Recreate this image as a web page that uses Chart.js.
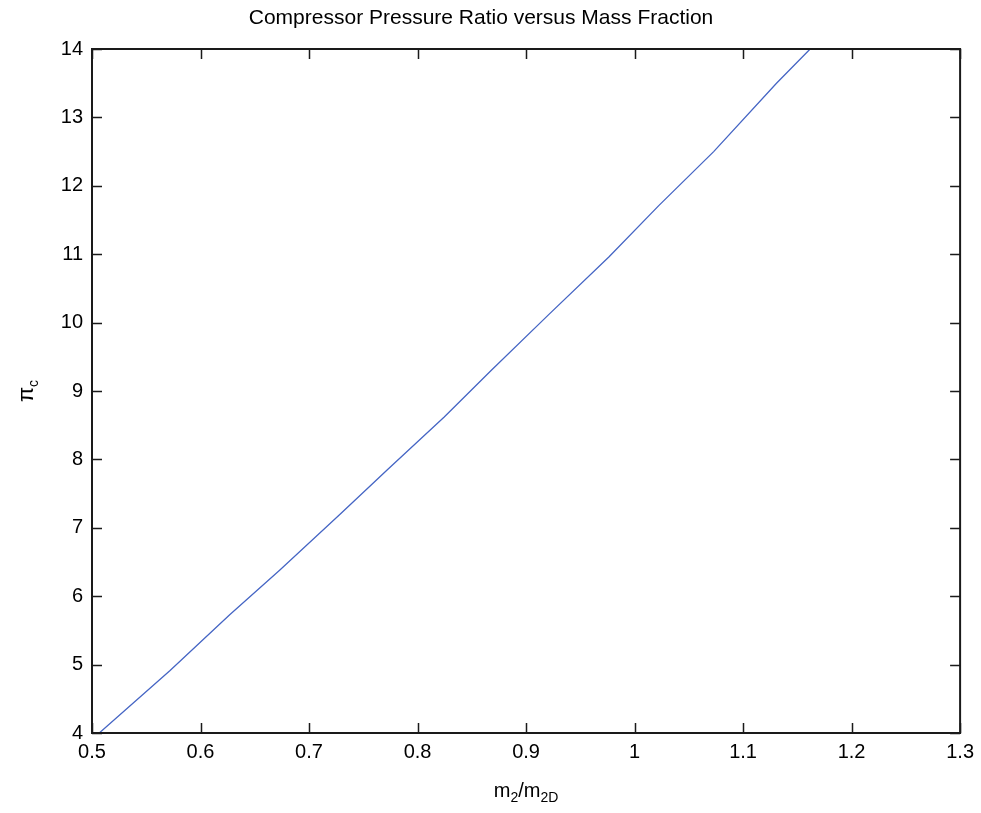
<!DOCTYPE html>
<html>
<head>
<meta charset="utf-8">
<title>Compressor Pressure Ratio versus Mass Fraction</title>
<script src="https://cdn.jsdelivr.net/npm/chart.js@4/dist/chart.umd.min.js"></script>
<style>
    html, body { margin: 0; padding: 0; background: #fff; }
    #wrap { width: 981px; height: 813px; position: relative; }
</style>
</head>
<body>
<div id="wrap"><canvas id="pressureChart"></canvas></div>
<script>
// values
const massFraction = [0.5067, 0.5717, 0.6269, 0.6729, 0.7281, 0.7722, 0.8246, 0.8678, 0.9211, 0.9763, 1.0223, 1.0729, 1.1308, 1.1618];
const pressureRatio = [4.00, 4.91, 5.73, 6.38, 7.19, 7.85, 8.62, 9.30, 10.12, 10.96, 11.71, 12.50, 13.50, 14.00];

const xTicks = [0.5, 0.6, 0.7, 0.8, 0.9, 1.0, 1.1, 1.2, 1.3];
const yTicks = [4, 5, 6, 7, 8, 9, 10, 11, 12, 13, 14];

const FONT = "'Liberation Sans', Arial, sans-serif";

// box + inward ticks, matlab style
const axesBox = {
    id: 'axesBox',
    afterDraw(chart) {
        const { ctx, chartArea: a, scales } = chart;
        const len = 10;
        ctx.save();
        ctx.strokeStyle = '#1a1a1a';
        ctx.lineWidth = 1.5;
        ctx.beginPath();
        xTicks.forEach(v => {
            const px = Math.round(scales.x.getPixelForValue(v)) + 0.5;
            ctx.moveTo(px, a.bottom); ctx.lineTo(px, a.bottom - len);
            ctx.moveTo(px, a.top); ctx.lineTo(px, a.top + len);
        });
        yTicks.forEach(v => {
            const py = Math.round(scales.y.getPixelForValue(v)) + 0.5;
            ctx.moveTo(a.left, py); ctx.lineTo(a.left + len, py);
            ctx.moveTo(a.right, py); ctx.lineTo(a.right - len, py);
        });
        ctx.stroke();
        ctx.lineWidth = 2;
        ctx.strokeRect(a.left, a.top, a.right - a.left, a.bottom - a.top);

        // axis labels with subscripts
        ctx.fillStyle = '#000';
        ctx.textBaseline = 'alphabetic';
        const big = `20px ${FONT}`, small = `14px ${FONT}`;
        const parts = [['m', big, 0], ['2', small, 5], ['/m', big, 0], ['2D', small, 5]];
        let total = 0;
        parts.forEach(p => { ctx.font = p[1]; total += ctx.measureText(p[0]).width; });
        let x = (a.left + a.right) / 2 - total / 2;
        const base = 797;
        parts.forEach(p => {
            ctx.font = p[1];
            ctx.fillText(p[0], x, base + p[2]);
            x += ctx.measureText(p[0]).width;
        });

        ctx.translate(33, (a.top + a.bottom) / 2);
        ctx.rotate(-Math.PI / 2);
        ctx.font = `22px ${FONT}`;
        const w1 = ctx.measureText('\u03c0').width;
        ctx.font = small;
        const w2 = ctx.measureText('c').width;
        let tx = -(w1 + w2) / 2;
        ctx.font = `22px ${FONT}`;
        ctx.fillText('\u03c0', tx, 0);
        ctx.font = small;
        ctx.fillText('c', tx + w1, 5);
        ctx.restore();
    }
};

new Chart(document.getElementById('pressureChart'), {
    type: 'scatter',
    data: {
        datasets: [{
            data: massFraction.map((m, i) => ({ x: m, y: pressureRatio[i] })),
            showLine: true,
            borderColor: '#4565c4',
            borderWidth: 1.3,
            pointRadius: 0,
            tension: 0,
            fill: false
        }]
    },
    options: {
        responsive: true,
        maintainAspectRatio: false,
        animation: false,
        layout: { padding: { left: 0, right: 19, top: 0, bottom: 0 } },
        plugins: {
            legend: { display: false },
            tooltip: { enabled: false },
            title: {
                display: true,
                text: 'Compressor Pressure Ratio versus Mass Fraction',
                color: '#000',
                font: { family: FONT, size: 21, weight: 'normal', lineHeight: 1.2 },
                padding: { top: 6, bottom: 17.8 }
            }
        },
        scales: {
            x: {
                type: 'linear',
                min: 0.5,
                max: 1.3,
                afterBuildTicks: s => { s.ticks = xTicks.map(v => ({ value: v })); },
                afterFit: s => { s.height = 80; },
                grid: { display: false, drawTicks: false },
                border: { display: false },
                ticks: {
                    color: '#000',
                    font: { family: FONT, size: 20 },
                    padding: 7,
                    maxRotation: 0,
                    callback: v => String(+v.toFixed(1))
                }
            },
            y: {
                type: 'linear',
                min: 4,
                max: 14,
                afterBuildTicks: s => { s.ticks = yTicks.map(v => ({ value: v })); },
                afterFit: s => { s.width = 92; },
                grid: { display: false, drawTicks: false },
                border: { display: false },
                ticks: {
                    color: '#000',
                    font: { family: FONT, size: 20 },
                    padding: 9
                }
            }
        }
    },
    plugins: [axesBox]
});
</script>
</body>
</html>
